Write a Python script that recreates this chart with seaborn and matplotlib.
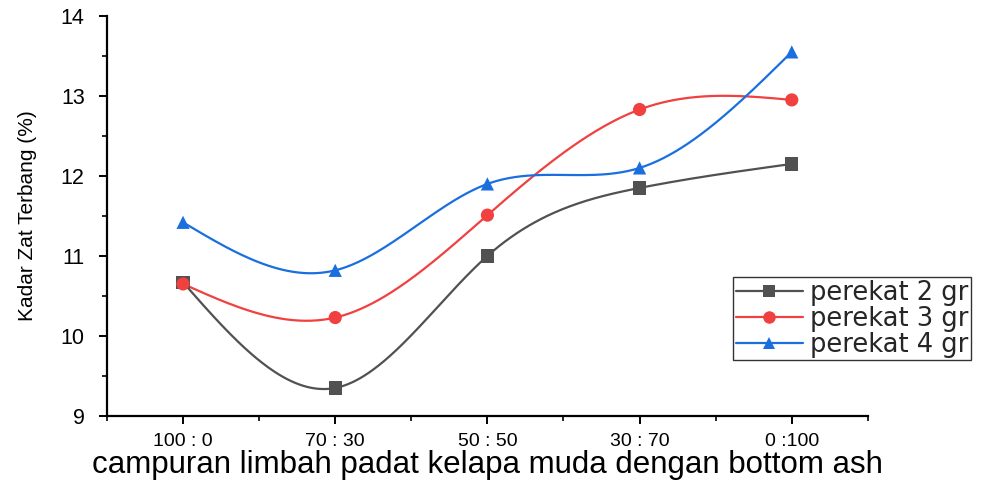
import numpy as np
import pandas as pd
import matplotlib
matplotlib.use("Agg")
import matplotlib.pyplot as plt
from matplotlib.lines import Line2D
from matplotlib.ticker import MultipleLocator
import seaborn as sns

# Mixing ratios (coconut waste : bottom ash)
ratios = ["100 : 0", "70 : 30", "50 : 50", "30 : 70", "0 :100"]
# Volatile matter content (%) for each binder dose
perekat_2 = [10.67, 9.35, 11.0, 11.85, 12.15]
perekat_3 = [10.65, 10.23, 11.51, 12.83, 12.95]
perekat_4 = [11.42, 10.82, 11.9, 12.1, 13.55]
series_names = ["perekat 2 gr", "perekat 3 gr", "perekat 4 gr"]
colors = ["#515151", "#F14040", "#1A6FDF"]
markers = ["s", "o", "^"]


def natural_spline(x, y, n=300):
    """Natural cubic spline through (x, y), sampled on a dense grid."""
    x = np.asarray(x, float)
    y = np.asarray(y, float)
    k = len(x)
    h = np.diff(x)
    A = np.zeros((k, k))
    b = np.zeros(k)
    A[0, 0] = A[-1, -1] = 1.0
    for i in range(1, k - 1):
        A[i, i - 1] = h[i - 1]
        A[i, i] = 2 * (h[i - 1] + h[i])
        A[i, i + 1] = h[i]
        b[i] = 3 * ((y[i + 1] - y[i]) / h[i] - (y[i] - y[i - 1]) / h[i - 1])
    c = np.linalg.solve(A, b)
    xs = np.linspace(x[0], x[-1], n)
    idx = np.clip(np.searchsorted(x, xs, side="right") - 1, 0, k - 2)
    dx = xs - x[idx]
    bb = (y[idx + 1] - y[idx]) / h[idx] - h[idx] * (2 * c[idx] + c[idx + 1]) / 3
    dd = (c[idx + 1] - c[idx]) / (3 * h[idx])
    ys = y[idx] + bb * dx + c[idx] * dx ** 2 + dd * dx ** 3
    return xs, ys


sns.set_theme(style="ticks")
plt.rcParams["font.family"] = ["Liberation Sans", "DejaVu Sans"]

fig = plt.figure(figsize=(9.94, 4.82), dpi=100)
ax = fig.add_axes([0.1076, 0.137, 0.7655, 0.830])

pos = np.arange(len(ratios))
points = pd.DataFrame({
    "pos": np.tile(pos, 3),
    "val": perekat_2 + perekat_3 + perekat_4,
    "series": np.repeat(series_names, len(ratios)),
})

curves = []
for name, vals in zip(series_names, [perekat_2, perekat_3, perekat_4]):
    xs, ys = natural_spline(pos, vals)
    curves.append(pd.DataFrame({"pos": xs, "val": ys, "series": name}))
curves = pd.concat(curves, ignore_index=True)

palette = dict(zip(series_names, colors))
sns.lineplot(data=curves, x="pos", y="val", hue="series", palette=palette,
             linewidth=1.6, legend=False, ax=ax, sort=False, estimator=None)
sns.scatterplot(data=points, x="pos", y="val", hue="series", style="series",
                palette=palette, markers=dict(zip(series_names, markers)),
                s=90, linewidth=0, legend=False, ax=ax, zorder=3)

ax.set_xlim(-0.5, 4.5)
ax.set_ylim(9, 14)
ax.set_xticks(pos)
ax.set_xticklabels(ratios)
ax.xaxis.set_minor_locator(MultipleLocator(0.5))
ax.yaxis.set_major_locator(MultipleLocator(1))
ax.yaxis.set_minor_locator(MultipleLocator(0.5))
ax.tick_params(axis="both", which="major", length=6, width=1.4,
               direction="out", color="black", labelcolor="black")
ax.tick_params(axis="both", which="minor", length=3.5, width=1.2,
               direction="out", color="black")
ax.tick_params(axis="x", labelsize=14, pad=6)
ax.tick_params(axis="y", labelsize=15.5, pad=10)
for side in ["top", "right"]:
    ax.spines[side].set_visible(False)
for side in ["left", "bottom"]:
    ax.spines[side].set_linewidth(1.6)
    ax.spines[side].set_color("black")

ax.set_xlabel("campuran limbah padat kelapa muda dengan bottom ash",
              fontsize=22.5, labelpad=0, color="black")
ax.set_ylabel("Kadar Zat Terbang (%)", fontsize=15, labelpad=17, color="black")

handles = [Line2D([0], [0], color=c, marker=m, markersize=9, linewidth=1.6,
                  markeredgewidth=0) for c, m in zip(colors, markers)]
leg = ax.legend(handles, series_names, loc="upper left",
                bbox_to_anchor=(0.823, 0.3475),
                prop={"family": ["DejaVu Sans"], "size": 18.5},
                frameon=True, fancybox=False, edgecolor="black",
                handlelength=2.6, handletextpad=0.3, borderpad=0.1,
                labelspacing=0.0, borderaxespad=0)
leg.get_frame().set_linewidth(1.0)

fig.savefig("out.png", dpi=100)
